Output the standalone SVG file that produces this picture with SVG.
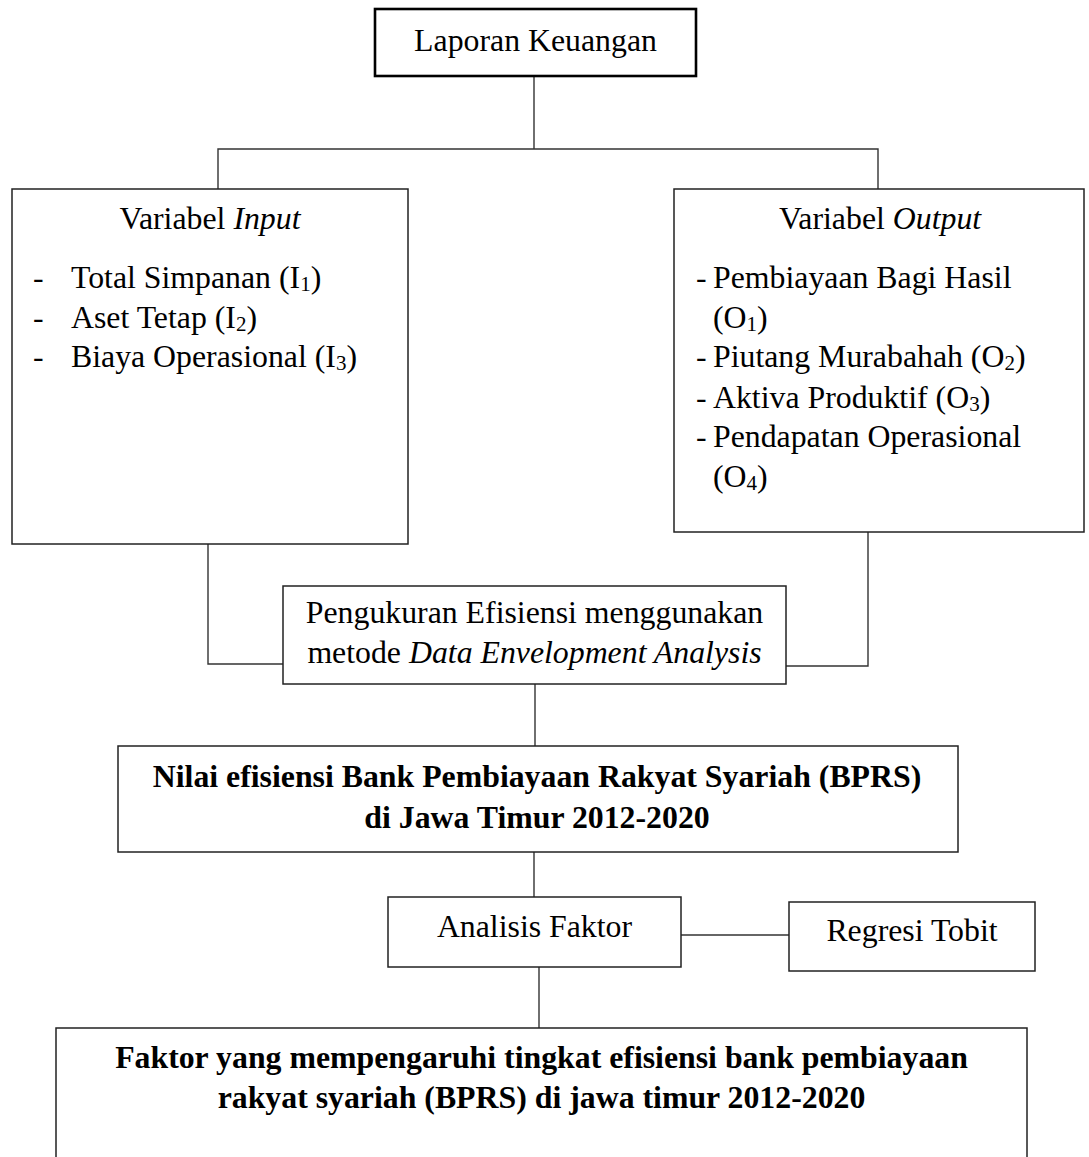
<svg xmlns="http://www.w3.org/2000/svg" width="1089" height="1157" viewBox="0 0 1089 1157">
<style>
text{font-family:"Liberation Serif","Times New Roman",serif;font-size:31.8px;fill:#000}
.c{text-anchor:middle}
.b{font-weight:bold}
.i{font-style:italic}
.box{fill:#fff;stroke:#222;stroke-width:1.5}
.thick{fill:#fff;stroke:#000;stroke-width:2.6}
.ln{fill:none;stroke:#333;stroke-width:1.4}
.sub{font-size:21px}
</style>
<rect width="1089" height="1157" fill="#fff"/>
<g id="connectors">
<polyline class="ln" points="534,76 534,149"/>
<polyline class="ln" points="218,189 218,149 878,149 878,189"/>
<polyline class="ln" points="208,544 208,664 286,664"/>
<polyline class="ln" points="868,532 868,666 786,666"/>
<polyline class="ln" points="535,684 535,746"/>
<polyline class="ln" points="534,852 534,897"/>
<polyline class="ln" points="681,935 789,935"/>
<polyline class="ln" points="539,967 539,1028"/>
</g>
<g id="laporan">
<rect class="thick" x="375" y="9" width="321" height="67"/>
<text class="c" x="535.5" y="51">Laporan Keuangan</text>
</g>
<g id="input">
<rect class="box" x="12" y="189" width="396" height="355"/>
<text class="c" x="210" y="229">Variabel <tspan class="i">Input</tspan></text>
<text x="33" y="288">-</text><text x="71" y="288">Total Simpanan (I<tspan class="sub" dy="3">1</tspan><tspan dy="-3">)</tspan></text>
<text x="33" y="328">-</text><text x="71" y="328">Aset Tetap (I<tspan class="sub" dy="3">2</tspan><tspan dy="-3">)</tspan></text>
<text x="33" y="367">-</text><text x="71" y="367">Biaya Operasional (I<tspan class="sub" dy="3">3</tspan><tspan dy="-3">)</tspan></text>
</g>
<g id="output">
<rect class="box" x="674" y="189" width="410" height="343"/>
<text class="c" x="880" y="229">Variabel <tspan class="i">Output</tspan></text>
<text x="696" y="288">-</text><text x="713" y="288">Pembiayaan Bagi Hasil</text>
<text x="713" y="328">(O<tspan class="sub" dy="3">1</tspan><tspan dy="-3">)</tspan></text>
<text x="696" y="367">-</text><text x="713" y="367">Piutang Murabahah (O<tspan class="sub" dy="3">2</tspan><tspan dy="-3">)</tspan></text>
<text x="696" y="408">-</text><text x="713" y="408">Aktiva Produktif (O<tspan class="sub" dy="3">3</tspan><tspan dy="-3">)</tspan></text>
<text x="696" y="447">-</text><text x="713" y="447">Pendapatan Operasional</text>
<text x="713" y="487">(O<tspan class="sub" dy="3">4</tspan><tspan dy="-3">)</tspan></text>
</g>
<g id="pengukuran">
<rect class="box" x="283" y="586" width="503" height="98"/>
<text class="c" x="534.5" y="623">Pengukuran Efisiensi menggunakan</text>
<text class="c" x="534.5" y="663">metode <tspan class="i">Data Envelopment Analysis</tspan></text>
</g>
<g id="nilai">
<rect class="box" x="118" y="746" width="840" height="106"/>
<text class="c b" x="537" y="787">Nilai efisiensi Bank Pembiayaan Rakyat Syariah (BPRS)</text>
<text class="c b" x="537" y="828">di Jawa Timur 2012-2020</text>
</g>
<g id="analisis">
<rect class="box" x="388" y="897" width="293" height="70"/>
<text class="c" x="534.5" y="937">Analisis Faktor</text>
</g>
<g id="tobit">
<rect class="box" x="789" y="902" width="246" height="69"/>
<text class="c" x="912" y="941">Regresi Tobit</text>
</g>
<g id="faktor">
<rect class="box" x="56" y="1028" width="971" height="140"/>
<text class="c b" x="541.5" y="1068">Faktor yang mempengaruhi tingkat efisiensi bank pembiayaan</text>
<text class="c b" x="541.5" y="1108">rakyat syariah (BPRS) di jawa timur 2012-2020</text>
</g>
</svg>
